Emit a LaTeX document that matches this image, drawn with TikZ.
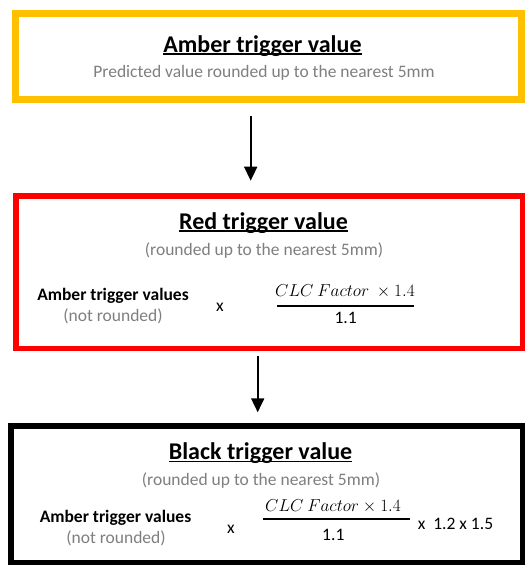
\documentclass[tikz,border=0pt]{standalone}
\usepackage{fontspec}
\setmainfont{Carlito}
\usetikzlibrary{arrows.meta}
\definecolor{amberc}{HTML}{FFC000}
\definecolor{redc}{HTML}{FF0000}
\definecolor{greyc}{HTML}{7F7F7F}
\begin{document}
\begin{tikzpicture}[x=1pt,y=-1pt,
  box/.style={draw, inner sep=0pt},
  lbl/.style={inner sep=0pt, anchor=base, font=\fontsize{17.5}{21}\selectfont},
  blbl/.style={lbl, font=\fontsize{17.5}{21}\selectfont\bfseries},
  ttl/.style={inner sep=0pt, anchor=base, font=\fontsize{24}{29}\selectfont\bfseries},
  sub/.style={lbl, text=greyc},
  arr/.style={line width=1.8pt, -{Triangle[width=13pt,length=14pt]}},
  ulin/.style={line width=1.4pt},
  fbar/.style={line width=1.8pt}]
\useasboundingbox[fill=white] (0,0) rectangle (532,576);
% boxes
\node[box, draw=amberc, line width=7pt, minimum width=506pt, minimum height=86pt] (amber) at (268.5,56.5) {};
\node[box, draw=redc, line width=5.5pt, minimum width=506.5pt, minimum height=152.5pt] (red) at (269,272) {};
\node[box, draw=black, line width=5.5pt, minimum width=511.5pt, minimum height=136.5pt] (black) at (266.5,494) {};
% amber content
\node[ttl] (t1) at (262.5,52) {Amber trigger value};
\draw[ulin] ([yshift=-2pt]t1.base west) -- ([yshift=-2pt]t1.base east);
\node[sub] (s1) at (264,77) {Predicted value rounded up to the nearest 5mm};
% red content
\node[ttl] (t2) at (263.5,229) {Red trigger value};
\draw[ulin] ([yshift=-2pt]t2.base west) -- ([yshift=-2pt]t2.base east);
\node[sub] (s2) at (264,255) {(rounded up to the nearest 5mm)};
\node[blbl] (a2) at (113,300.7) {Amber trigger values};
\node[sub] (n2) at (113,321.7) {(not rounded)};
\node[lbl] (x2) at (220,311.7) {x};
\node[lbl] (num2) at (345,296.7) {$CLC\ Factor\ \times 1.4$};
\node[lbl] (den2) at (345.7,323) {1.1};
\draw[fbar] (277,306) -- (414,306);
% black content
\node[ttl] (t3) at (260.5,459.5) {Black trigger value};
\draw[ulin] ([yshift=-2pt]t3.base west) -- ([yshift=-2pt]t3.base east);
\node[sub] (s3) at (261,485) {(rounded up to the nearest 5mm)};
\node[blbl] (a3) at (115.5,522.7) {Amber trigger values};
\node[sub] (n3) at (116,543.3) {(not rounded)};
\node[lbl] (x3) at (231,533.3) {x};
\node[lbl] (num3) at (333,511.7) {$CLC\ Factor \times 1.4$};
\node[lbl] (den3) at (333.3,540) {1.1};
\draw[fbar] (263,519.3) -- (410,519.3);
\node[lbl] (m3) at (455.5,529.5) {x\ \ 1.2 x 1.5};
% arrows
\coordinate (a1s) at (250.7,115.7);
\coordinate (a1e) at (250.7,180.7);
\coordinate (a2s) at (257.7,355.7);
\coordinate (a2e) at (257.7,412.3);
\draw[arr] (a1s) -- (a1e);
\draw[arr] (a2s) -- (a2e);
\end{tikzpicture}
\end{document}
